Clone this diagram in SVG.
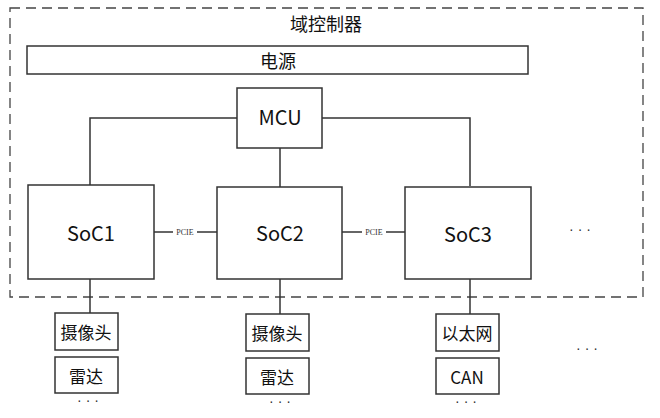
<svg xmlns="http://www.w3.org/2000/svg" width="660" height="418" viewBox="0 0 660 418">
<style>
.box{fill:#fff;stroke:#333;stroke-width:1.5}
.ln{stroke:#333;stroke-width:1.5;fill:none}
.t{font-family:"Noto Sans CJK SC","Noto Sans",sans-serif;fill:#111;text-anchor:middle;dominant-baseline:central}
.big{font-size:20px}
.mid{font-size:18px}
.lab{font-size:17px}
.sm{font-family:"Liberation Serif",serif;font-size:8px;fill:#333;text-anchor:middle;dominant-baseline:central}
.dots{font-family:"Liberation Sans",sans-serif;font-size:14px;fill:#333;text-anchor:middle}
</style>
<rect width="660" height="418" fill="#fff"/>
<g id="domain">
<rect x="10" y="8" width="633" height="289" fill="none" stroke="#444" stroke-width="1.3" stroke-dasharray="10,6"/>
<text class="t mid" x="326" y="23">域控制器</text>
</g>
<g id="connectors">
<polyline class="ln" points="237,118 90,118 90,185"/>
<polyline class="ln" points="322,118 470,118 470,186"/>
<line class="ln" x1="280" y1="148" x2="280" y2="187"/>
<line class="ln" x1="154" y1="232" x2="173" y2="232"/>
<line class="ln" x1="197" y1="232" x2="217" y2="232"/>
<line class="ln" x1="342" y1="232" x2="362" y2="232"/>
<line class="ln" x1="386" y1="232" x2="405" y2="232"/>
<text class="sm" x="185" y="232">PCIE</text>
<text class="sm" x="374" y="232">PCIE</text>
<line class="ln" x1="90" y1="279" x2="90" y2="313"/>
<line class="ln" x1="280" y1="279" x2="280" y2="314"/>
<line class="ln" x1="470" y1="279" x2="470" y2="314"/>
</g>
<g id="power"><rect class="box" x="27" y="46" width="501" height="28"/><text class="t mid" x="278" y="60">电源</text></g>
<g id="mcu"><rect class="box" x="237" y="88" width="85" height="60"/><text class="t big" x="280" y="116">MCU</text></g>
<g id="soc1"><rect class="box" x="28" y="185" width="126" height="94"/><text class="t big" x="91" y="232">SoC1</text></g>
<g id="soc2"><rect class="box" x="217" y="187" width="125" height="92"/><text class="t big" x="280" y="232">SoC2</text></g>
<g id="soc3"><rect class="box" x="405" y="187" width="126" height="92"/><text class="t big" x="468" y="233">SoC3</text></g>
<g id="more1"><text class="dots" x="580" y="234">· · ·</text></g>
<g id="cam1"><rect class="box" x="55" y="313" width="63" height="37"/><text class="t lab" x="86" y="331">摄像头</text></g>
<g id="radar1"><rect class="box" x="55" y="357" width="63" height="36"/><text class="t lab" x="86" y="375">雷达</text></g>
<text class="dots" x="88" y="405">· · ·</text>
<g id="cam2"><rect class="box" x="246" y="314" width="63" height="37"/><text class="t lab" x="277" y="332">摄像头</text></g>
<g id="radar2"><rect class="box" x="246" y="358" width="63" height="36"/><text class="t lab" x="277" y="376">雷达</text></g>
<text class="dots" x="280" y="406">· · ·</text>
<g id="eth"><rect class="box" x="436" y="314" width="63" height="37"/><text class="t lab" x="467" y="332">以太网</text></g>
<g id="can"><rect class="box" x="436" y="358" width="63" height="36"/><text class="t lab" x="467" y="376">CAN</text></g>
<text class="dots" x="466" y="406">· · ·</text>
<g id="more2"><text class="dots" x="587" y="353">· · ·</text></g>
</svg>
